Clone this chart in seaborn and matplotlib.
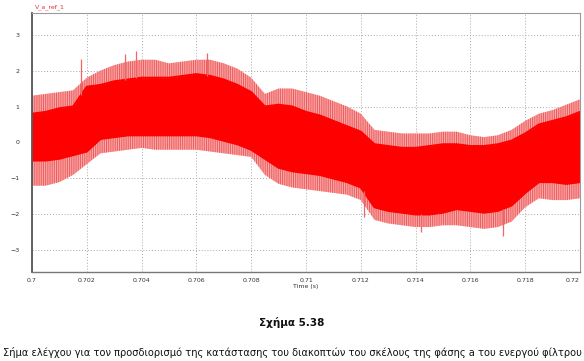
import numpy as np
import pandas as pd
import seaborn as sns
import matplotlib.pyplot as plt

# envelope of the switching signal, every 0.5 ms
time_s = [0.7000, 0.7005, 0.7010, 0.7015, 0.7020, 0.7025, 0.7030, 0.7035, 0.7040, 0.7045,
          0.7050, 0.7055, 0.7060, 0.7065, 0.7070, 0.7075, 0.7080, 0.7085, 0.7090, 0.7095,
          0.7100, 0.7105, 0.7110, 0.7115, 0.7120, 0.7125, 0.7130, 0.7135, 0.7140, 0.7145,
          0.7150, 0.7155, 0.7160, 0.7165, 0.7170, 0.7175, 0.7180, 0.7185, 0.7190, 0.7195,
          0.7200]
outer_hi = [1.30, 1.35, 1.40, 1.45, 1.80, 2.00, 2.15, 2.25, 2.30, 2.30,
            2.20, 2.25, 2.30, 2.30, 2.20, 2.05, 1.80, 1.35, 1.50, 1.50,
            1.40, 1.30, 1.15, 1.00, 0.80, 0.35, 0.30, 0.25, 0.25, 0.25,
            0.30, 0.30, 0.20, 0.15, 0.20, 0.35, 0.60, 0.80, 0.90, 1.05,
            1.20]
inner_hi = [0.80, 0.85, 0.95, 1.00, 1.55, 1.60, 1.70, 1.75, 1.80, 1.80,
            1.80, 1.85, 1.90, 1.85, 1.75, 1.60, 1.40, 1.00, 1.05, 1.00,
            0.85, 0.75, 0.60, 0.45, 0.30, -0.05, -0.10, -0.15, -0.15, -0.10,
            -0.05, -0.05, -0.10, -0.10, -0.05, 0.05, 0.25, 0.50, 0.60, 0.70,
            0.85]
inner_lo = [-0.50, -0.50, -0.45, -0.35, -0.25, 0.10, 0.15, 0.20, 0.20, 0.20,
            0.20, 0.20, 0.20, 0.15, 0.05, -0.05, -0.20, -0.45, -0.70, -0.80,
            -0.85, -0.90, -1.00, -1.10, -1.25, -1.80, -1.90, -1.95, -2.00, -2.00,
            -1.95, -1.85, -1.90, -1.95, -1.90, -1.75, -1.40, -1.10, -1.10, -1.15,
            -1.10]
outer_lo = [-1.20, -1.20, -1.10, -0.90, -0.60, -0.30, -0.25, -0.20, -0.15, -0.20,
            -0.20, -0.20, -0.20, -0.25, -0.30, -0.35, -0.40, -0.90, -1.15, -1.25,
            -1.30, -1.35, -1.40, -1.45, -1.60, -2.15, -2.25, -2.30, -2.35, -2.35,
            -2.30, -2.30, -2.35, -2.40, -2.35, -2.20, -1.80, -1.55, -1.60, -1.60,
            -1.55]

# single tallest spikes
spike_t = [0.7018, 0.7034, 0.7038, 0.7064, 0.7121, 0.7142, 0.7172]
spike_v = [2.33, 2.47, 2.55, 2.50, -2.08, -2.50, -2.60]

x_ticks = [0.7, 0.702, 0.704, 0.706, 0.708, 0.71, 0.712, 0.714, 0.716, 0.718, 0.72]
x_labels = ["0.7", "0.702", "0.704", "0.706", "0.708", "0.71", "0.712", "0.714",
            "0.716", "0.718", "0.72"]
y_ticks = [-3, -2, -1, 0, 1, 2, 3]

sns.set_theme(style="white")
plt.rcParams["font.family"] = ["DejaVu Sans"]
plt.rcParams["hatch.linewidth"] = 0.7

df = pd.DataFrame({"t": time_s, "oh": outer_hi, "ih": inner_hi,
                   "il": inner_lo, "ol": outer_lo})

fig = plt.figure(figsize=(5.84, 3.61), dpi=100)
ax = fig.add_axes([32 / 584, 1 - 272 / 361, 548 / 584, 259 / 361])

ax.fill_between(df["t"], df["ol"], df["oh"], facecolor="#f9b4b4",
                edgecolor="#f05a5a", hatch="|||||||||", linewidth=0)
ax.fill_between(df["t"], df["il"], df["ih"], color="#ff0000", linewidth=0)
for col in ["ih", "il"]:
    sns.lineplot(data=df, x="t", y=col, ax=ax, color="#ff0000", linewidth=1.5)

# spikes start at the edge of the dense band
spike_base = np.where(np.array(spike_v) > 0,
                      np.interp(spike_t, time_s, inner_hi),
                      np.interp(spike_t, time_s, inner_lo))
ax.vlines(spike_t, spike_base, spike_v, color="#f06666", linewidth=0.9)

ax.set_xlim(0.7, 0.72)
ax.set_ylim(-3.6, 3.6)
ax.set_xticks(x_ticks)
ax.set_xticklabels(x_labels)
ax.set_yticks(y_ticks)
ax.tick_params(axis="both", labelsize=4.5, length=0, colors="#333333")
ax.tick_params(axis="x", pad=4)
ax.tick_params(axis="y", pad=9)
ax.get_xticklabels()[-1].set_horizontalalignment("right")
ax.grid(True, color="#a8a8a8", linestyle=(0, (1, 2)), linewidth=0.7)
ax.set_axisbelow(True)

ax.set_xlabel("Time (s)", fontsize=4.5, color="#333333", labelpad=1)
ax.set_ylabel("")

for side in ["top", "right"]:
    ax.spines[side].set_color("#9a9a9a")
    ax.spines[side].set_linewidth(0.8)
ax.spines["left"].set_color("#555555")
ax.spines["left"].set_linewidth(1.3)
ax.spines["bottom"].set_color("#777777")
ax.spines["bottom"].set_linewidth(1.0)

fig.text(32 / 584 + 0.005, 1 - 7 / 361, "V_a_ref_1", fontsize=4.5, color="#e03030",
         va="center", ha="left")

fig.text(0.5, 1 - 322 / 361, "Σχήμα 5.38", fontsize=7.5, fontweight="bold",
         ha="center", va="center", color="#111111")
fig.text(0.5, 1 - 352 / 361,
         "Σήμα ελέγχου για τον προσδιορισμό της κατάστασης του διακοπτών του σκέλους "
         "της φάσης a του ενεργού φίλτρου",
         fontsize=7.15, ha="center", va="center", color="#111111")

fig.savefig("out.png", dpi=100)
